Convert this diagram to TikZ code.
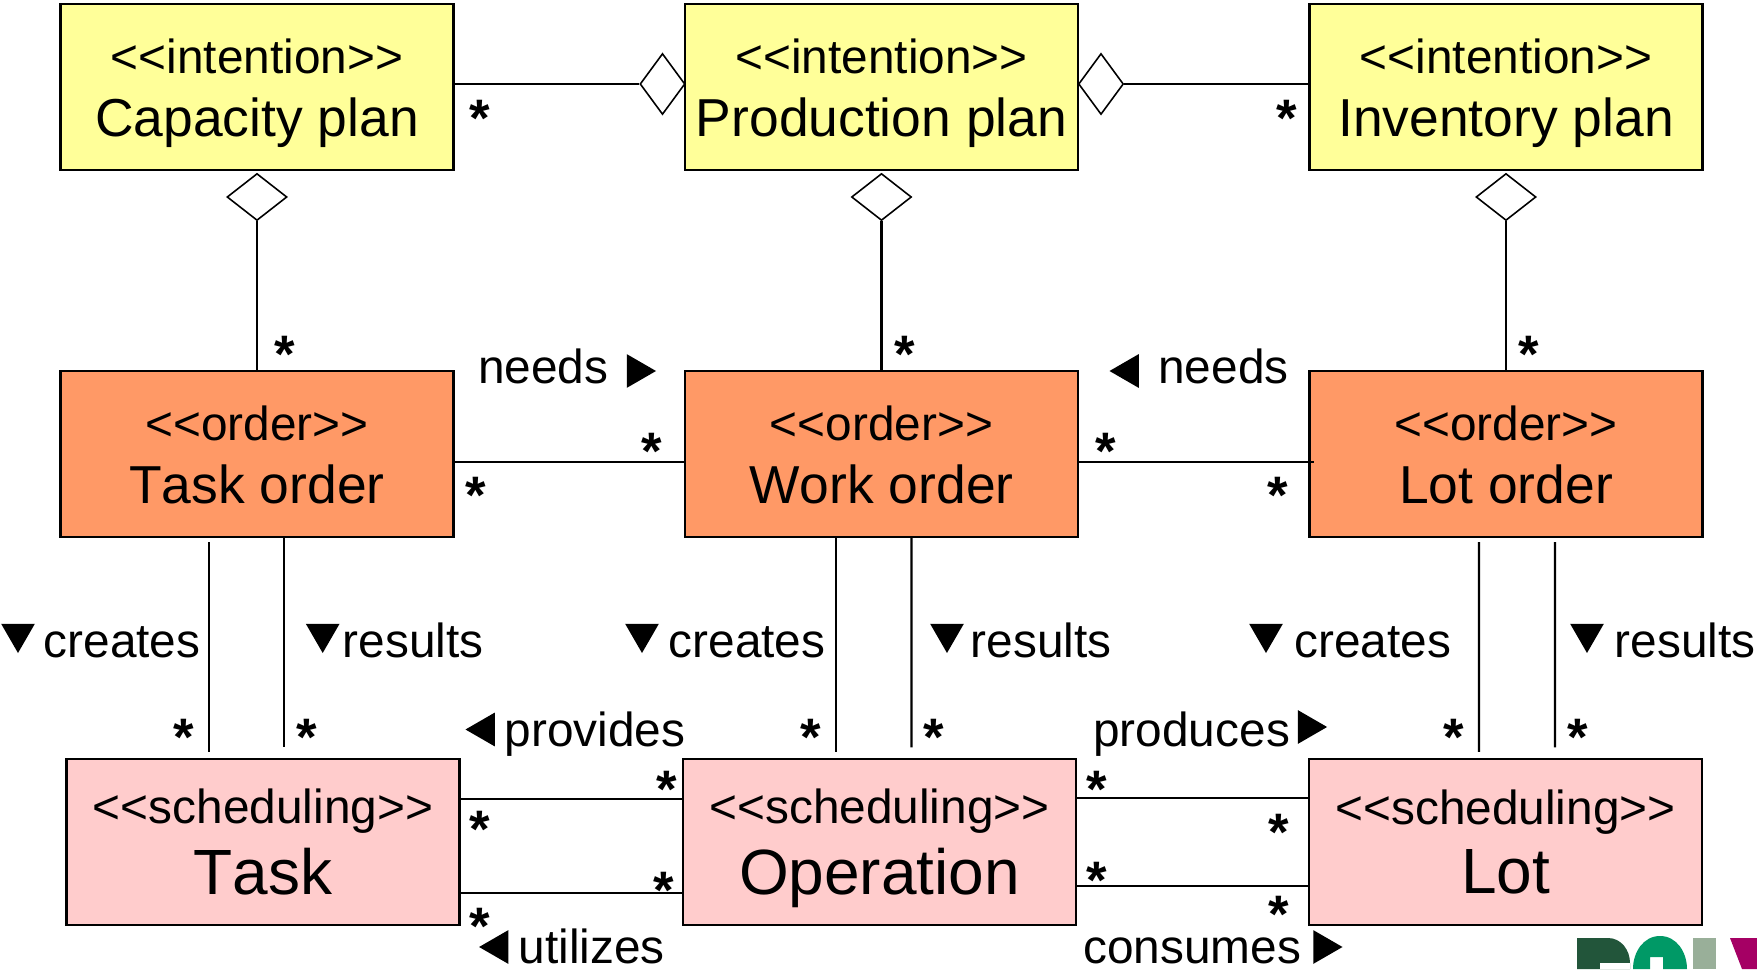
\documentclass[tikz,border=0pt]{standalone}
\usepackage{fontspec}
\setmainfont[Kerning=Off]{Liberation Sans}
\usetikzlibrary{shapes.geometric}

\definecolor{planyellow}{HTML}{FFFF99}
\definecolor{orderorange}{HTML}{FF9966}
\definecolor{schedpink}{HTML}{FFCCCC}
\definecolor{logodark}{HTML}{22553A}
\definecolor{logogreen}{HTML}{009966}
\definecolor{logosage}{HTML}{99AF99}
\definecolor{logomagenta}{HTML}{A50064}

\newcommand{\stereo}{\fontsize{13.6}{16}\selectfont}
\newcommand{\midname}{\fontsize{15.2}{17.9}\selectfont}
\newcommand{\bigname}{\fontsize{18.2}{20.4}\selectfont}
% two lines of a class box: stereotype, then name
\newcommand{\midbox}[2]{\stereo\rule{0pt}{16.2pt}<{}<#1>{}>\\[5.85pt]\midname\rule[-6pt]{0pt}{6pt}#2}
\newcommand{\bigbox}[2]{\stereo\rule{0pt}{16.6pt}<{}<#1>{}>\\[3.2pt]\bigname\rule[-7pt]{0pt}{7pt}#2}

\tikzset{
	cls/.style={draw=black, line width=0.6pt, minimum width=3.93cm, minimum height=1.66cm, inner sep=0pt, align=center},
	plan/.style={cls, fill=planyellow},
	order/.style={cls, fill=orderorange},
	sched/.style={cls, fill=schedpink},
	link/.style={line width=0.6pt},
	agg/.style={diamond, draw=black, fill=white, line width=0.45pt, inner sep=0pt},
	aggv/.style={agg, minimum width=0.60cm, minimum height=0.47cm},
	aggh/.style={agg, minimum width=0.45cm, minimum height=0.61cm},
	lab/.style={font=\fontsize{13.6}{16}\selectfont, anchor=base west, inner sep=0pt},
	mult/.style={font=\fontsize{15}{16}\selectfont\bfseries, anchor=base, inner sep=0pt, yshift=-0.25cm},
	tri/.style={regular polygon, regular polygon sides=3, fill=black, inner sep=0pt, minimum size=0.39cm},
	tridown/.style={tri, shape border rotate=180},
	trileft/.style={tri, shape border rotate=90},
	triright/.style={tri, shape border rotate=-90}
}

\begin{document}
\begin{tikzpicture}
	\useasboundingbox (0,0) rectangle (17.57,9.69);

	% boxes
	\node [plan] (CapPlan) at (2.57,8.82) {\midbox{intention}{Capacity plan}};
	\node [plan] (ProdPlan) at (8.815,8.82) {\midbox{intention}{Production plan}};
	\node [plan] (InvPlan) at (15.06,8.82) {\midbox{intention}{Inventory plan}};
	\node [order] (TaskOrd) at (2.57,5.15) {\midbox{order}{Task order}};
	\node [order] (WorkOrd) at (8.815,5.15) {\midbox{order}{Work order}};
	\node [order] (LotOrd) at (15.06,5.15) {\midbox{order}{Lot order}};
	\node [sched] (Task) at (2.63,1.27) {\bigbox{scheduling}{Task}};
	\node [sched] (Oper) at (8.795,1.27) {\bigbox{scheduling}{Operation}};
	\node [sched] (Lot) at (15.055,1.27) {\bigbox{scheduling}{Lot}};

	% diamonds
	\node [aggv] (Dcap) at (2.57,7.72) {};
	\node [aggv] (Dprod) at (8.815,7.72) {};
	\node [aggv] (Dinv) at (15.06,7.72) {};
	\node [aggh] (Dleft) at (6.625,8.85) {};
	\node [aggh] (Dright) at (11.01,8.85) {};

	% top connectors
	\draw [link] (CapPlan.east |- Dleft.west) -- (Dleft.west);
	\draw [link] (Dright.east) -- (InvPlan.west |- Dright.east);
	\draw [link] (Dcap.south) -- (TaskOrd.north);
	\draw [link] (Dprod.south) -- (WorkOrd.north);
	\draw [link] (Dinv.south) -- (LotOrd.north);

	% middle row
	\draw [link] ([yshift=-0.08cm]TaskOrd.east) -- ([yshift=-0.08cm]WorkOrd.west);
	\draw [link] ([yshift=-0.08cm]WorkOrd.east) -- ([xshift=0.06cm,yshift=-0.08cm]LotOrd.west);

	% order to bottom row
	\draw [link] ([xshift=-0.48cm,yshift=-0.04cm]TaskOrd.south) -- ([xshift=-0.54cm,yshift=0.06cm]Task.north);
	\draw [link] ([xshift=0.27cm]TaskOrd.south) -- ([xshift=0.21cm,yshift=0.105cm]Task.north);
	\draw [link] ([xshift=-0.455cm]WorkOrd.south) -- ([xshift=-0.435cm,yshift=0.06cm]Oper.north);
	\draw [link] ([xshift=0.30cm]WorkOrd.south) -- ([xshift=0.32cm,yshift=0.105cm]Oper.north);
	\draw [link] ([xshift=-0.27cm,yshift=-0.04cm]LotOrd.south) -- ([xshift=-0.265cm,yshift=0.06cm]Lot.north);
	\draw [link] ([xshift=0.49cm,yshift=-0.04cm]LotOrd.south) -- ([xshift=0.495cm,yshift=0.105cm]Lot.north);

	% bottom row
	\draw [link] ([yshift=0.43cm]Task.east) -- ([yshift=0.43cm]Task.east -| Oper.west);
	\draw [link] ([yshift=-0.51cm]Task.east) -- ([yshift=-0.51cm]Task.east -| Oper.west);
	\draw [link] ([yshift=0.44cm]Oper.east) -- ([yshift=0.44cm]Oper.east -| Lot.west);
	\draw [link] ([yshift=-0.44cm]Oper.east) -- ([yshift=-0.44cm]Oper.east -| Lot.west);

	% multiplicities
	\node [mult] (m1) at (4.80,8.57) {*};
	\node [mult] (m2) at (12.87,8.57) {*};
	\node [mult] (m3) at (2.85,6.22) {*};
	\node [mult] (m4) at (9.05,6.22) {*};
	\node [mult] (m5) at (15.29,6.22) {*};
	\node [mult] (m6) at (6.52,5.24) {*};
	\node [mult] (m7) at (4.76,4.805) {*};
	\node [mult] (m8) at (11.06,5.24) {*};
	\node [mult] (m9) at (12.78,4.805) {*};
	\node [mult] (m10) at (1.84,2.385) {*};
	\node [mult] (m11) at (3.07,2.385) {*};
	\node [mult] (m12) at (8.11,2.385) {*};
	\node [mult] (m13) at (9.34,2.385) {*};
	\node [mult] (m14) at (14.54,2.385) {*};
	\node [mult] (m15) at (15.775,2.385) {*};
	\node [mult] (m16) at (6.67,1.87) {*};
	\node [mult] (m17) at (4.80,1.465) {*};
	\node [mult] (m18) at (10.97,1.87) {*};
	\node [mult] (m19) at (12.79,1.44) {*};
	\node [mult] (m20) at (6.64,0.86) {*};
	\node [mult] (m21) at (4.80,0.50) {*};
	\node [mult] (m22) at (10.97,0.96) {*};
	\node [mult] (m23) at (12.79,0.614) {*};

	% association labels
	\node [lab] (l1) at (4.775,5.86) {needs};
	\node [lab] (l2) at (11.576,5.86) {needs};
	\node [lab] (l3) at (0.43,3.115) {creates};
	\node [lab] (l4) at (3.42,3.115) {results};
	\node [lab] (l5) at (6.68,3.115) {creates};
	\node [lab] (l6) at (9.70,3.115) {results};
	\node [lab] (l7) at (12.935,3.115) {creates};
	\node [lab] (l8) at (16.14,3.115) {results};
	\node [lab] (l9) at (5.04,2.23) {provides};
	\node [lab] (l10) at (10.926,2.23) {produces};
	\node [lab] (l11) at (5.18,0.054) {utilizes};
	\node [lab] (l12) at (10.825,0.054) {consumes};

	% reading direction marks
	\node [triright] (t1) at (6.365,5.98) {};
	\node [trileft] (t2) at (11.29,5.98) {};
	\node [tridown] (t3) at (0.18,3.355) {};
	\node [tridown] (t4) at (3.227,3.355) {};
	\node [tridown] (t5) at (6.42,3.355) {};
	\node [tridown] (t6) at (9.47,3.355) {};
	\node [tridown] (t7) at (12.66,3.355) {};
	\node [tridown] (t8) at (15.87,3.355) {};
	\node [trileft] (t9) at (4.85,2.395) {};
	\node [triright] (t10) at (13.076,2.42) {};
	\node [trileft] (t11) at (4.986,0.22) {};
	\node [triright] (t12) at (13.23,0.22) {};

	% logo cut off by the page edge
	\fill [logodark] (15.77,0) -- (15.77,0.31) -- (16.08,0.31) to [out=0, in=90] (16.30,0.06) -- (16.30,0) -- cycle;
	\fill [white] (16.00,0) -- (16.00,0.06) -- (16.30,0.06) -- (16.30,0) -- cycle;
	\fill [logogreen] (16.33,0) to [out=90, in=180] (16.60,0.33) to [out=0, in=90] (16.87,0) -- (16.63,0) -- (16.63,0.12) -- (16.50,0.12) -- (16.50,0) -- cycle;
	\fill [logosage] (16.93,0) rectangle (17.16,0.31);
	\fill [logomagenta] (17.30,0.31) -- (17.57,0.31) -- (17.57,0) -- (17.42,0) -- cycle;

\end{tikzpicture}
\end{document}
